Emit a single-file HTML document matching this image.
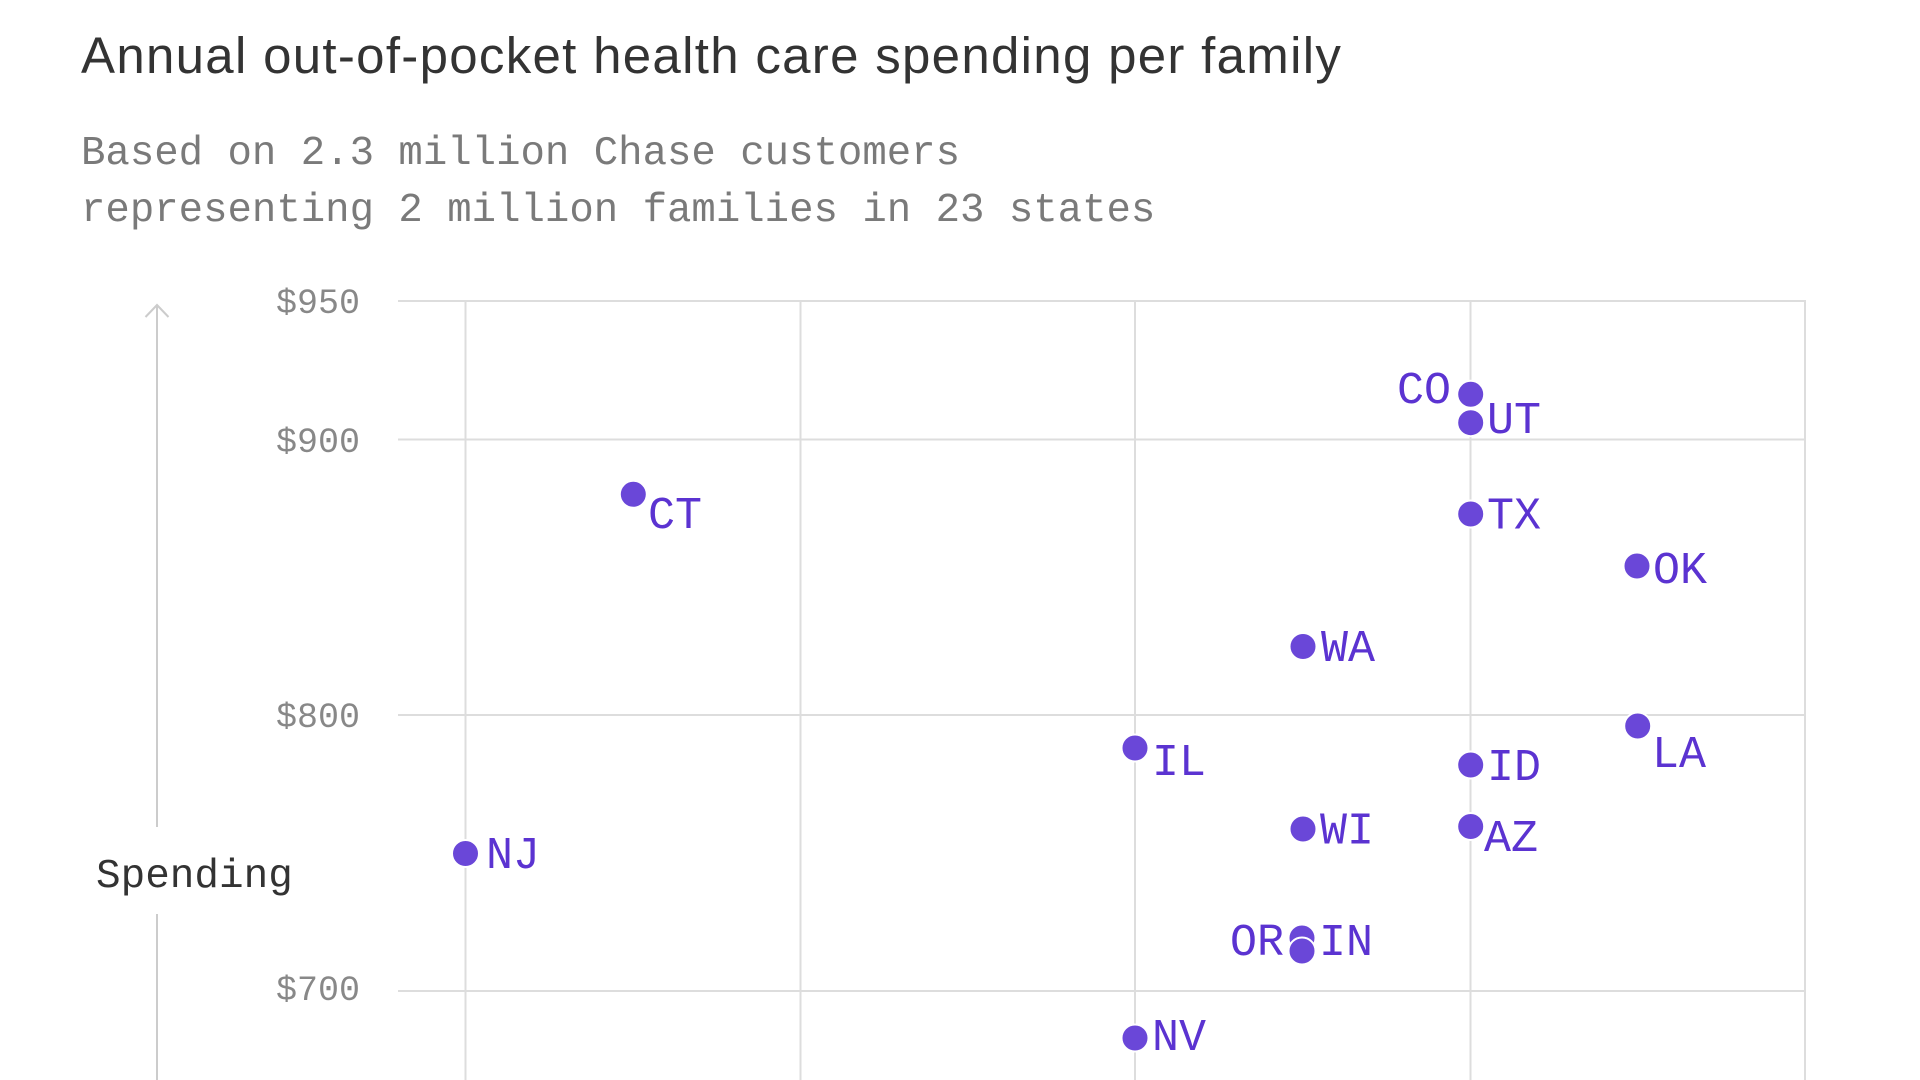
<!DOCTYPE html>
<html>
<head>
<meta charset="utf-8">
<style>
  html, body { margin:0; padding:0; background:#ffffff; }
  body { width:1920px; height:1080px; overflow:hidden; }
  svg { display:block; }
  .title { font-family:"Liberation Sans", sans-serif; font-size:51px; fill:#333333; letter-spacing:1.3px; }
  .sub { font-family:"Liberation Mono", monospace; font-size:40.7px; fill:#7a7a7a; }
  .tick { font-family:"Liberation Mono", monospace; font-size:35px; fill:#888888; }
  .axl { font-family:"Liberation Mono", monospace; font-size:41px; fill:#333333; }
  .lab { font-family:"Liberation Mono", monospace; font-size:45px; fill:#5b33d1; }
  .dot { fill:#6a47d8; stroke:#ffffff; stroke-width:2; }
  .grid { stroke:#dddddd; stroke-width:2; fill:none; }
  .axis { stroke:#cccccc; stroke-width:2; fill:none; }
</style>
</head>
<body>
<svg width="1920" height="1080" viewBox="0 0 1920 1080" xmlns="http://www.w3.org/2000/svg">
  <!-- Title & subtitle -->
  <text class="title" x="81" y="73">Annual out-of-pocket health care spending per family</text>
  <text class="sub" x="81" y="164">Based on 2.3 million Chase customers</text>
  <text class="sub" x="81" y="221">representing 2 million families in 23 states</text>

  <!-- Horizontal gridlines -->
  <line class="grid" x1="398" y1="301" x2="1806" y2="301"/>
  <line class="grid" x1="398" y1="439.5" x2="1806" y2="439.5"/>
  <line class="grid" x1="398" y1="715" x2="1806" y2="715"/>
  <line class="grid" x1="398" y1="991" x2="1806" y2="991"/>

  <!-- Vertical gridlines -->
  <line class="grid" x1="465.5" y1="300" x2="465.5" y2="1080"/>
  <line class="grid" x1="800.5" y1="300" x2="800.5" y2="1080"/>
  <line class="grid" x1="1135" y1="300" x2="1135" y2="1080"/>
  <line class="grid" x1="1470.5" y1="300" x2="1470.5" y2="1080"/>
  <line class="grid" x1="1805" y1="300" x2="1805" y2="1080"/>

  <!-- Y tick labels -->
  <text class="tick" x="360" y="313" text-anchor="end">$950</text>
  <text class="tick" x="360" y="452" text-anchor="end">$900</text>
  <text class="tick" x="360" y="727" text-anchor="end">$800</text>
  <text class="tick" x="360" y="1000" text-anchor="end">$700</text>

  <!-- Y axis arrow -->
  <line class="axis" x1="157" y1="305" x2="157" y2="827"/>
  <line class="axis" x1="157" y1="914" x2="157" y2="1080"/>
  <polyline class="axis" points="145.5,317 157,305 168.5,317"/>
  <text class="axl" x="96" y="887">Spending</text>

  <!-- Dots -->
  <circle class="dot" cx="465.5" cy="853.5" r="13.5"/>
  <circle class="dot" cx="633.3" cy="494.3" r="13.5"/>
  <circle class="dot" cx="1135" cy="748" r="13.5"/>
  <circle class="dot" cx="1135" cy="1038" r="13.5"/>
  <circle class="dot" cx="1303" cy="646.5" r="13.5"/>
  <circle class="dot" cx="1303" cy="829" r="13.5"/>
  <circle class="dot" cx="1302" cy="938" r="13.5"/>
  <circle class="dot" cx="1302" cy="951" r="13.5"/>
  <circle class="dot" cx="1470.7" cy="394.3" r="13.5"/>
  <circle class="dot" cx="1470.7" cy="422.7" r="13.5"/>
  <circle class="dot" cx="1470.7" cy="514" r="13.5"/>
  <circle class="dot" cx="1470.7" cy="765" r="13.5"/>
  <circle class="dot" cx="1470.7" cy="826.5" r="13.5"/>
  <circle class="dot" cx="1637" cy="566" r="13.5"/>
  <circle class="dot" cx="1637.7" cy="726" r="13.5"/>

  <!-- Labels -->
  <text class="lab" x="486" y="868">NJ</text>
  <text class="lab" x="648" y="528">CT</text>
  <text class="lab" x="1152" y="775">IL</text>
  <text class="lab" x="1152" y="1050">NV</text>
  <text class="lab" x="1321" y="661">WA</text>
  <text class="lab" x="1320" y="843.5">WI</text>
  <text class="lab" x="1284" y="955" text-anchor="end">OR</text>
  <text class="lab" x="1319" y="955">IN</text>
  <text class="lab" x="1451" y="403" text-anchor="end">CO</text>
  <text class="lab" x="1487" y="433">UT</text>
  <text class="lab" x="1487" y="528.5">TX</text>
  <text class="lab" x="1487" y="780">ID</text>
  <text class="lab" x="1484" y="851">AZ</text>
  <text class="lab" x="1653" y="583">OK</text>
  <text class="lab" x="1652" y="767">LA</text>
</svg>
</body>
</html>
